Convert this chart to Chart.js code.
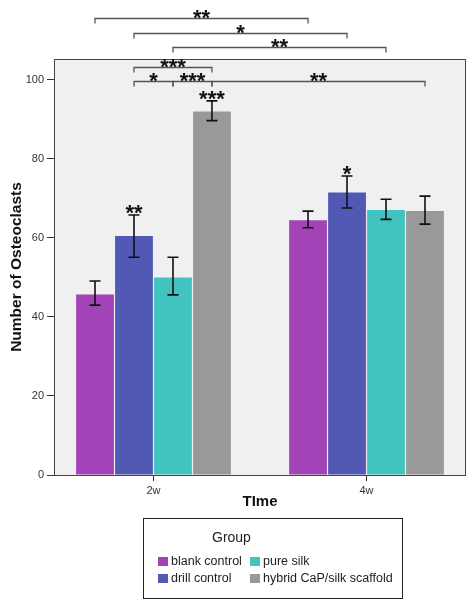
<!DOCTYPE html>
<html>
<head>
<meta charset="utf-8">
<script src="https://cdn.jsdelivr.net/npm/chart.js@4/dist/chart.umd.min.js"></script>
<style>
  html, body { margin: 0; padding: 0; background: #fff; }
  #wrap { position: relative; width: 473px; height: 606px; }
  #legend {
    position: absolute; left: 143px; top: 518px; width: 260px; height: 81px;
    border: 1.5px solid #222; box-sizing: border-box;
    font-family: "Liberation Sans", Arial, sans-serif; color: #222;
  }
  #legend .title { position: absolute; left: 68px; top: 10px; font-size: 14px; }
  #legend .item { position: absolute; font-size: 12.5px; white-space: nowrap; line-height: 14px; }
  #legend .sw { display: inline-block; width: 10px; height: 9px; margin-right: 3px; vertical-align: -0.5px; }
</style>
</head>
<body>
<div id="wrap">
  <canvas id="chart" width="473" height="606"></canvas>
  <div id="legend"><div class="title">Group</div></div>
</div>
<script>
// data
const categories = ['2w', '4w'];
const groups = ['blank control', 'drill control', 'pure silk', 'hybrid CaP/silk scaffold'];
const colors = ['#a343b8', '#5159b4', '#41c3bf', '#999999'];

const blankControl = [45.7, 64.5];
const drillControl = [60.5, 71.5];
const pureSilk = [50.0, 67.1];
const hybridScaffold = [92.0, 66.8];

// error bar ends, per group then per time point
const errLow = [[43.0, 62.6], [55.1, 67.6], [45.6, 64.7], [89.7, 63.5]];
const errHigh = [[49.1, 66.8], [65.8, 75.7], [55.1, 69.8], [94.7, 70.6]];
const barStars = [['', ''], ['**', '*'], ['', ''], ['***', '']];

const yTicks = [0, 20, 40, 60, 80, 100];

// significance brackets: [group, time] -> [group, time]
const compFrom = [[0, 0], [1, 0], [2, 0], [1, 0], [1, 0], [2, 0], [3, 0]];
const compTo = [[0, 1], [1, 1], [2, 1], [3, 0], [2, 0], [3, 0], [3, 1]];
const compLevel = [115.6, 111.8, 108.3, 103.3, 99.7, 99.7, 99.7];
const compStars = ['**', '*', '**', '***', '*', '***', '**'];

const series = [blankControl, drillControl, pureSilk, hybridScaffold];
const FONT = '"Liberation Sans", Arial, sans-serif';
Chart.defaults.font.family = FONT;

function drawStars(ctx, text, x, cy) {
  ctx.save();
  ctx.font = 'bold 22px ' + FONT;
  ctx.fillStyle = '#111';
  ctx.textAlign = 'center';
  ctx.textBaseline = 'alphabetic';
  ctx.fillText(text, x, cy + 22 * 0.57);
  ctx.restore();
}

const extras = {
  id: 'extras',
  beforeDatasetsDraw(chart) {
    const { ctx, chartArea: a } = chart;
    ctx.save();
    ctx.fillStyle = '#f0f0f0';
    ctx.fillRect(a.left, a.top, a.right - a.left, a.bottom - a.top);
    ctx.restore();
  },
  afterDatasetsDraw(chart) {
    const { ctx, chartArea: a } = chart;
    const ys = chart.scales.y;
    const barX = (g, t) => chart.getDatasetMeta(g).data[t].x;

    // plot frame
    ctx.save();
    ctx.strokeStyle = '#444';
    ctx.lineWidth = 1;
    ctx.strokeRect(Math.round(a.left) + 0.5, Math.round(a.top) + 0.5,
      Math.round(a.right - a.left) - 1, Math.round(a.bottom - a.top));
    ctx.restore();

    // error bars
    ctx.save();
    ctx.strokeStyle = '#111';
    ctx.lineWidth = 1.6;
    series.forEach((s, g) => {
      s.forEach((v, t) => {
        const x = barX(g, t);
        const y1 = ys.getPixelForValue(errHigh[g][t]);
        const y2 = ys.getPixelForValue(errLow[g][t]);
        ctx.beginPath();
        ctx.moveTo(x, y1); ctx.lineTo(x, y2);
        ctx.moveTo(x - 5.5, y1); ctx.lineTo(x + 5.5, y1);
        ctx.moveTo(x - 5.5, y2); ctx.lineTo(x + 5.5, y2);
        ctx.stroke();
        if (barStars[g][t]) drawStars(ctx, barStars[g][t], x, y1 - 7.5);
      });
    });
    ctx.restore();

    // brackets
    ctx.save();
    ctx.strokeStyle = '#555';
    ctx.lineWidth = 1.3;
    compStars.forEach((label, k) => {
      const x1 = barX(compFrom[k][0], compFrom[k][1]);
      const x2 = barX(compTo[k][0], compTo[k][1]);
      const y = Math.round(ys.getPixelForValue(compLevel[k])) + 0.5;
      ctx.beginPath();
      ctx.moveTo(x1, y + 5); ctx.lineTo(x1, y); ctx.lineTo(x2, y); ctx.lineTo(x2, y + 5);
      ctx.stroke();
      drawStars(ctx, label, (x1 + x2) / 2, y - 6);
    });
    ctx.restore();
  }
};

new Chart(document.getElementById('chart'), {
  type: 'bar',
  data: {
    datasets: series.map((s, g) => ({
      label: groups[g],
      data: s.map((v, t) => ({ x: t, y: v })),
      backgroundColor: colors[g],
      categoryPercentage: 0.732,
      barPercentage: 0.97
    }))
  },
  options: {
    responsive: false,
    animation: false,
    layout: { padding: { top: 59, left: 0, right: 7, bottom: 91.6 } },
    plugins: { legend: { display: false }, tooltip: { enabled: false } },
    scales: {
      x: {
        type: 'linear',
        offset: false,
        min: -0.467,
        max: 1.467,
        afterBuildTicks: s => { s.ticks = categories.map((c, i) => ({ value: i })); },
        afterFit: s => { s.height = 39.4; },
        ticks: { callback: v => categories[v], color: '#333', font: { size: 11 }, padding: 3, maxRotation: 0 },
        grid: { display: true, offset: false, drawOnChartArea: false, tickLength: 6, color: '#333' },
        border: { display: false },
        title: { display: true, text: 'TIme', color: '#111', font: { size: 15, weight: 'bold' }, padding: { top: 4, bottom: 4 } }
      },
      y: {
        min: 0,
        max: 105.3,
        afterBuildTicks: s => { s.ticks = yTicks.map(v => ({ value: v })); },
        afterFit: s => { s.width = 54; },
        ticks: { color: '#333', font: { size: 11 }, padding: 3 },
        grid: { display: true, drawOnChartArea: false, tickLength: 7, color: '#333' },
        border: { display: false },
        title: { display: true, text: 'Number of Osteoclasts', color: '#111', font: { size: 15.5, weight: 'bold' }, padding: { top: 7.5, bottom: 4 } }
      }
    }
  },
  plugins: [extras]
});

// legend: two columns, filled top to bottom
const legend = document.getElementById('legend');
groups.forEach((name, g) => {
  const item = document.createElement('div');
  item.className = 'item';
  item.style.left = (Math.floor(g / 2) === 0 ? 14 : 106) + 'px';
  item.style.top = (g % 2 === 0 ? 35 : 52) + 'px';
  item.innerHTML = '<span class="sw" style="background:' + colors[g] + '"></span>' + name;
  legend.appendChild(item);
});
</script>
</body>
</html>
